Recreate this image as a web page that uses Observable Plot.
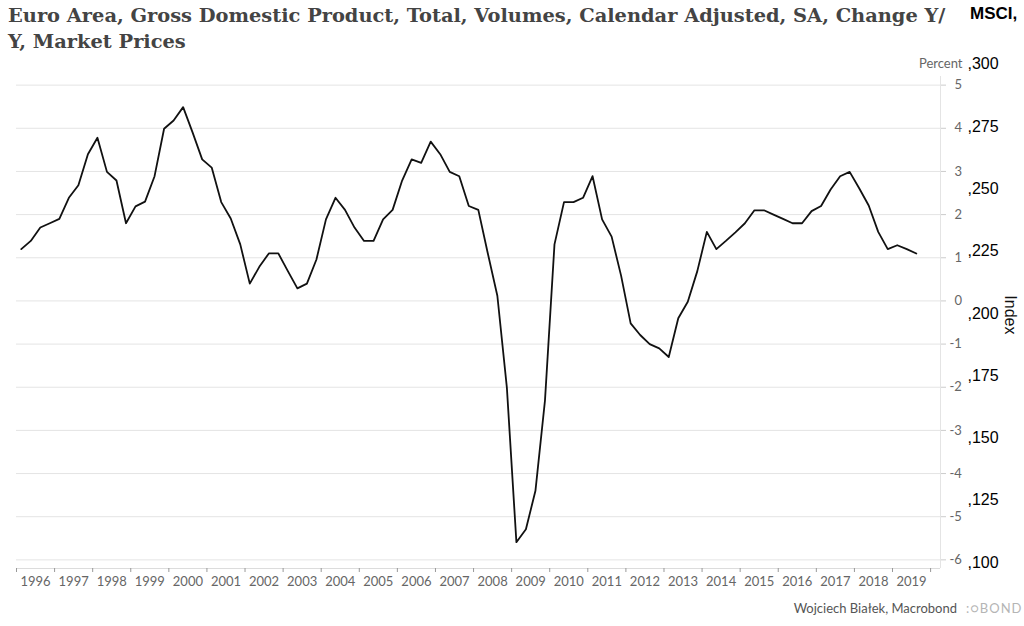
<!DOCTYPE html>
<html>
<head>
<meta charset="utf-8">
<script src="https://cdn.jsdelivr.net/npm/d3@7"></script>
<script src="https://cdn.jsdelivr.net/npm/@observablehq/plot@0.6"></script>
<style>
  html, body { margin: 0; padding: 0; background: #fff; width: 1024px; height: 626px; overflow: hidden; }
  #head { position: relative; height: 60px; }
  #title { position: absolute; left: 8px; top: 3px; font: bold 19.4px/26px "DejaVu Serif", serif; color: #444; white-space: nowrap; }
  #msci { position: absolute; left: 970px; top: 4px; font: bold 17px "Liberation Sans", sans-serif; color: #000; }
  #foot { position: relative; height: 26px; }
  #credit { position: absolute; right: 67px; top: 0; font: 13px/16px Lato, sans-serif; color: #555; }
  #logo { position: absolute; left: 966px; top: 0; font: 13px/16px Lato, sans-serif; color: #b5b5b5; letter-spacing: 1px; }
</style>
</head>
<body>
<div id="head">
  <div id="title">Euro Area, Gross Domestic Product, Total, Volumes, Calendar Adjusted, SA, Change Y/<br>Y, Market Prices</div>
  <div id="msci">MSCI,</div>
</div>
<div id="chart"></div>
<div id="foot">
  <div id="credit">Wojciech Białek, Macrobond</div>
  <div id="logo">:○BOND</div>
</div>
<script>
// Quarterly GDP change Y/Y (percent), starting 1996 Q1
const startYear = 1996;
const gdp = [
  1.20, 1.39, 1.70, 1.80,   // 1996
  1.90, 2.39, 2.68, 3.40,   // 1997
  3.78, 2.99, 2.79, 1.80,   // 1998
  2.19, 2.30, 2.89, 3.99,   // 1999
  4.18, 4.49, 3.90, 3.28,   // 2000
  3.09, 2.29, 1.91, 1.31,   // 2001
  0.40, 0.79, 1.10, 1.10,   // 2002
  0.69, 0.29, 0.40, 0.96,   // 2003
  1.89, 2.39, 2.11, 1.70,   // 2004
  1.39, 1.39, 1.89, 2.11,   // 2005
  2.79, 3.28, 3.20, 3.69,   // 2006
  3.40, 2.99, 2.89, 2.20,   // 2007
  2.11, 1.10, 0.12, -2.01,  // 2008
  -5.59, -5.29, -4.40, -2.31, // 2009
  1.31, 2.29, 2.29, 2.39,   // 2010
  2.89, 1.89, 1.49, 0.58,   // 2011
  -0.52, -0.79, -1.00, -1.10, // 2012
  -1.30, -0.40, -0.02, 0.69, // 2013
  1.60, 1.20, 1.39, 1.59,   // 2014
  1.80, 2.10, 2.10, 2.00,   // 2015
  1.90, 1.80, 1.80, 2.08,   // 2016
  2.20, 2.58, 2.89, 2.99,   // 2017
  2.61, 2.21, 1.60, 1.20,   // 2018
  1.29, 1.20, 1.10          // 2019
];
const yearLabels = d3.range(1996, 2020);          // 1996 … 2019
const yearBoundaries = d3.range(1996, 2021);      // tick marks at year starts
const percentTicks = d3.range(-6, 6);             // -6 … 5
const msciTicks = [100, 125, 150, 175, 200, 225, 250, 275, 300];
// secondary (MSCI Index) axis: its extent expressed on the percent axis
const msciExtent = [100, 300];
const msciOnPercent = [-6.065, 5.486];

const yDomain = [-6.2, 5.2];
const xDomain = [1996, 2020.26];

const data = gdp.map((v, i) => ({ t: startYear + Math.floor(i / 4) + ((i % 4) + 0.5) / 4, v }));
const msciToPct = d3.scaleLinear().domain(msciExtent).range(msciOnPercent);
const msciPos = msciTicks.map(m => msciToPct(m));

const chart = Plot.plot({
  width: 1024,
  height: 540,
  marginTop: 16,
  marginBottom: 32,
  marginLeft: 16,
  marginRight: 84,
  x: { domain: xDomain },
  y: { domain: yDomain },
  style: { fontFamily: "Lato, sans-serif", fontSize: "13px", color: "#666", background: "#fff", overflow: "visible" },
  marks: [
    Plot.gridY(percentTicks, { stroke: "#e4e4e4", strokeOpacity: 1 }),
    Plot.ruleY([yDomain[0]], { stroke: "#dcdcdc" }),
    Plot.ruleX([xDomain[1]], { stroke: "#e4e4e4" }),
    Plot.axisX(yearBoundaries, { tickSize: 4, tickFormat: () => "", stroke: "#999", label: null }),
    Plot.axisX(yearLabels.map(y => y + 0.5), { tickSize: 0, tickPadding: 8, tickFormat: d => String(Math.floor(d)), fill: "#666", fontSize: 13, label: null }),
    Plot.axisY(percentTicks.filter(d => d >= 0), { anchor: "right", tickSize: 5, tickPadding: 9, stroke: "#ccc", fill: "#666", tickFormat: d => String(d), label: null }),
    Plot.axisY(percentTicks.filter(d => d < 0), { anchor: "right", tickSize: 5, tickPadding: 4, stroke: "#ccc", fill: "#666", tickFormat: d => String(d), label: null }),
    Plot.axisY(msciPos, { anchor: "right", tickSize: 0, tickPadding: 27, fill: "#000", fontSize: 16, fontFamily: "Liberation Sans, sans-serif", tickFormat: d => "," + Math.round(msciToPct.invert(d)), label: null }),
    Plot.lineY(data, { x: "t", y: "v", stroke: "#111", strokeWidth: 1.8 }),
    Plot.text(["Percent"], { frameAnchor: "top-right", dx: 22, dy: -18, textAnchor: "end", fill: "#666", fontSize: 13 }),
    Plot.text(["Index"], { frameAnchor: "right", dx: 70, dy: 12, rotate: 90, fontSize: 16, fill: "#111", fontFamily: "Liberation Sans, sans-serif" })
  ]
});
document.getElementById("chart").appendChild(chart);
</script>
</body>
</html>
